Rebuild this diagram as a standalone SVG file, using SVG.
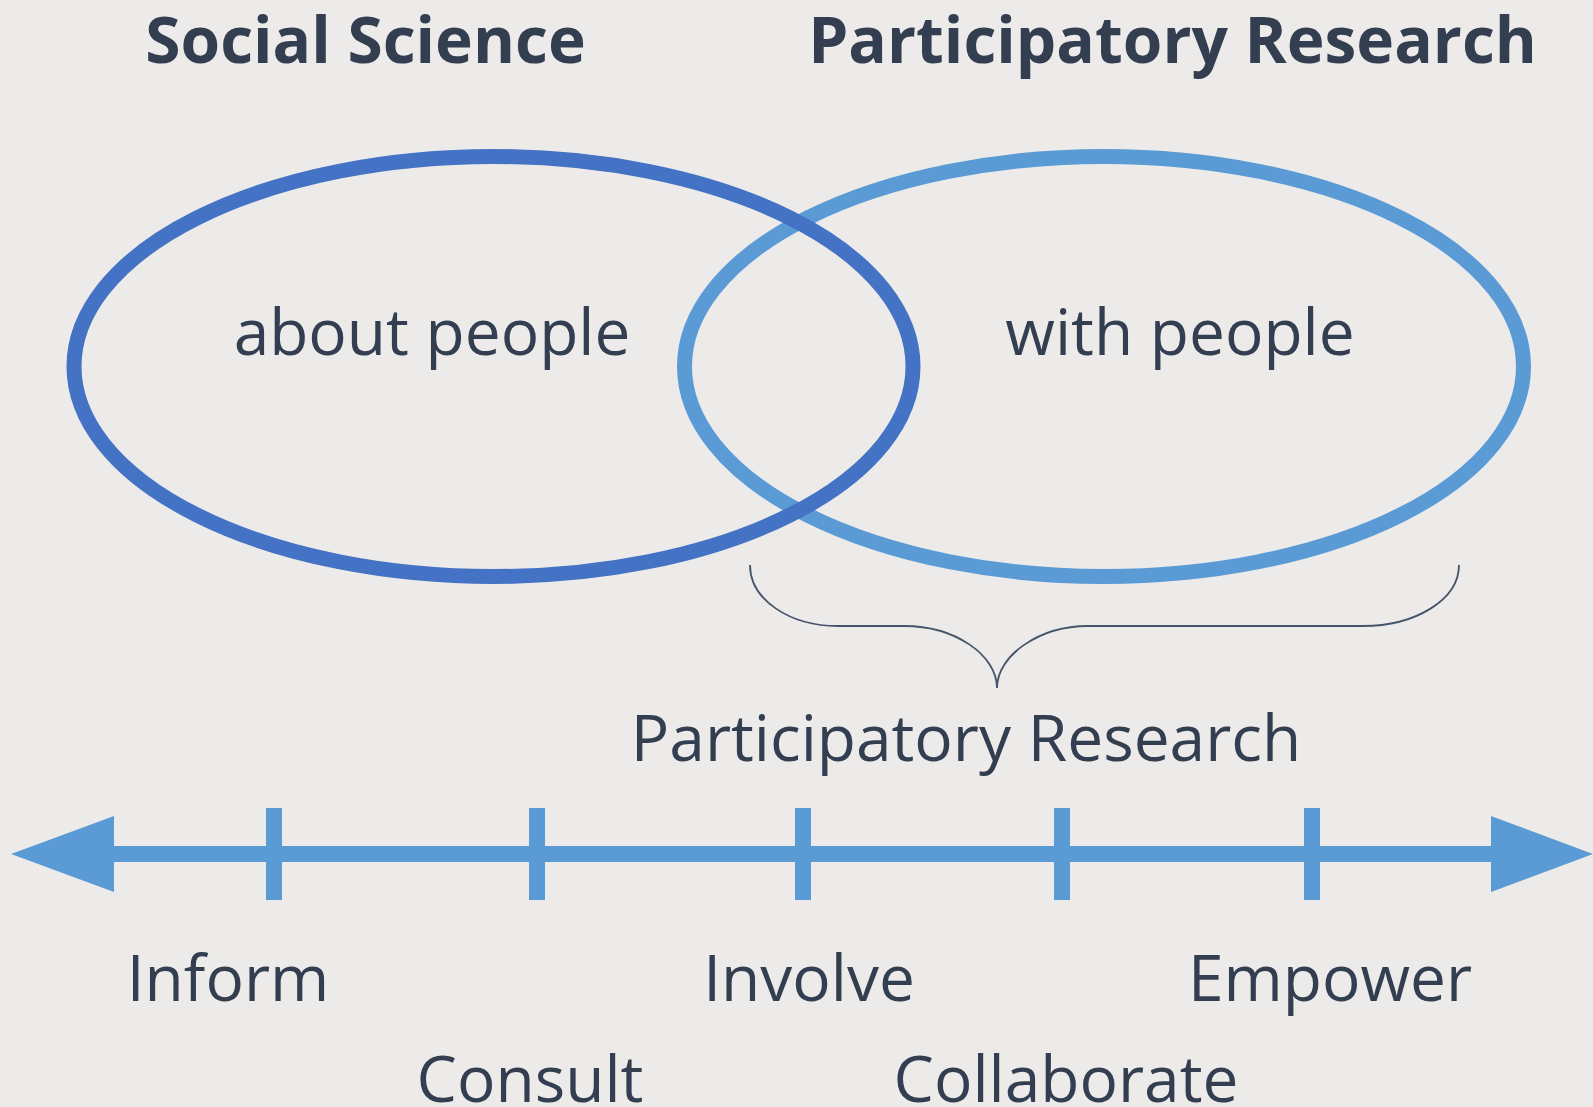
<svg xmlns="http://www.w3.org/2000/svg" width="1593" height="1107" viewBox="0 0 1593 1107">
  <style>
    .txt { font-family: "Open Sans", "Noto Sans", "Liberation Sans", sans-serif; fill: #333F50; text-anchor: middle; }
    .title { font-size: 64px; font-weight: 700; }
    .lbl { font-size: 64px; font-weight: 400; }
    .ell { fill: none; stroke-width: 15; }
    .axis { stroke: #5B9BD5; fill: none; }
  </style>
  <rect x="0" y="0" width="1593" height="1107" fill="#EDEBE9"/>

  <g id="title-social-science">
    <text class="txt title" x="365.5" y="63">Social Science</text>
  </g>
  <g id="title-participatory-research">
    <text class="txt title" x="1172.5" y="63">Participatory Research</text>
  </g>

  <g id="ellipse-with-people">
    <ellipse class="ell" cx="1104" cy="366.5" rx="419.5" ry="210" stroke="#5B9BD5"/>
    <text class="txt lbl" x="1180" y="355">with people</text>
  </g>
  <g id="ellipse-about-people">
    <ellipse class="ell" cx="493.5" cy="366.5" rx="419.5" ry="210" stroke="#4472C4"/>
    <text class="txt lbl" x="432" y="355">about people</text>
  </g>

  <g id="brace-participatory">
    <path d="M750,565 C750,600 790,626 838,626 L904,626 C955,626 997,655 997,688 C997,655 1040,626 1088,626 L1363,626 C1415,626 1459,600 1459,565" fill="none" stroke="#44546A" stroke-width="1.8"/>
    <text class="txt lbl" x="966" y="761">Participatory Research</text>
  </g>

  <g id="connectors">
    <line class="axis" x1="112" y1="854" x2="1493" y2="854" stroke-width="16"/>
    <polygon points="11,854 114,816 114,892" fill="#5B9BD5"/>
    <polygon points="1593,854 1491,816 1491,892" fill="#5B9BD5"/>
    <line class="axis" x1="274" y1="808" x2="274" y2="900" stroke-width="16"/>
    <line class="axis" x1="537" y1="808" x2="537" y2="900" stroke-width="16"/>
    <line class="axis" x1="803" y1="808" x2="803" y2="900" stroke-width="16"/>
    <line class="axis" x1="1062" y1="808" x2="1062" y2="900" stroke-width="16"/>
    <line class="axis" x1="1312" y1="808" x2="1312" y2="900" stroke-width="16"/>
  </g>

  <g id="label-inform"><text class="txt lbl" x="228" y="1001">Inform</text></g>
  <g id="label-consult"><text class="txt lbl" x="530" y="1102">Consult</text></g>
  <g id="label-involve"><text class="txt lbl" x="809" y="1001">Involve</text></g>
  <g id="label-collaborate"><text class="txt lbl" x="1066" y="1102">Collaborate</text></g>
  <g id="label-empower"><text class="txt lbl" x="1330" y="1001">Empower</text></g>
</svg>
